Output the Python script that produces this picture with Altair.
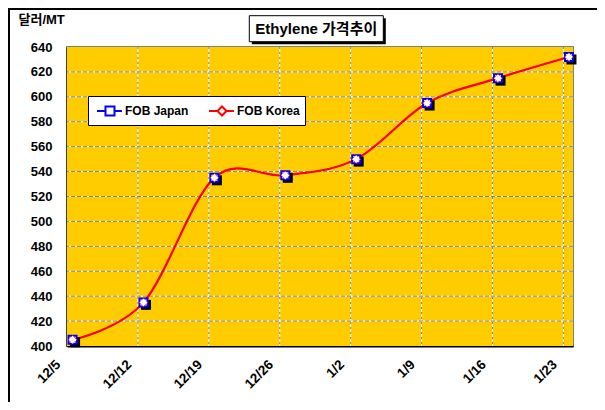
import json
import altair as alt
import pandas as pd

# ---- data ----
dates = ["12/5", "12/12", "12/19", "12/26", "1/2", "1/9", "1/16", "1/23"]
fob_japan = [405, 435, 535, 537, 550, 595, 615, 632]
fob_korea = [405, 435, 535, 537, 550, 595, 615, 632]
series_names = ["FOB Japan", "FOB Korea"]
series_colors = ["#0000FF", "#FF0000"]
y_ticks = [400, 420, 440, 460, 480, 500, 520, 540, 560, 580, 600, 620, 640]
title_text = "Ethylene 가격추이"
y_title = "달러/MT"

FONT = "Liberation Sans, Arial, Noto Sans CJK KR"
PLOT_BG = "#FFCC00"
day_step = 7
x_shift = 0.55
days = [i * day_step for i in range(len(dates))]
tick_vals = [d - x_shift for d in days]

df = pd.DataFrame({
    "date": dates * 2,
    "day": days * 2,
    "price": fob_japan + fob_korea,
    "series": [series_names[0]] * len(dates) + [series_names[1]] * len(dates),
})
xgrid = pd.DataFrame({"day": tick_vals[1:]})
ygrid = pd.DataFrame({"price": y_ticks[1:-1]})
one = pd.DataFrame({"t": [title_text]})

x_enc = alt.X(
    "day:Q",
    scale=alt.Scale(domain=[tick_vals[0], days[-1] + 0.4], nice=False, zero=False),
    axis=alt.Axis(
        values=tick_vals,
        labelExpr=f"{json.dumps(dates)}[round((datum.value + {x_shift}) / {day_step})]",
        title=None, grid=False, ticks=False, tickSize=0,
        domainColor="black", domainWidth=2,
        labelAngle=-45, labelAlign="right", labelBaseline="middle",
        labelPadding=16, labelOffset=-9, labelOverlap=False,
        labelFont=FONT, labelFontSize=13.5, labelFontWeight="bold", labelColor="black",
    ),
)
y_enc = alt.Y(
    "price:Q",
    scale=alt.Scale(domain=[y_ticks[0], y_ticks[-1]], nice=False, zero=False),
    axis=alt.Axis(
        values=y_ticks, title=y_title, titleAngle=0, titleAlign="left",
        titleBaseline="middle", titleX=-49, titleY=-27.5,
        titleFont=FONT, titleFontSize=13, titleFontWeight="bold", titleColor="black",
        grid=False, ticks=False, tickSize=0,
        domainColor="black", domainWidth=2, labelPadding=15,
        labelFont=FONT, labelFontSize=13, labelFontWeight="bold", labelColor="black",
    ),
)

plot_bg = alt.Chart(one).mark_rect(color=PLOT_BG).encode(
    x=alt.value(0), x2=alt.value(506), y=alt.value(0), y2=alt.value(299))

vgrid_base = alt.Chart(xgrid).mark_rule(color="white", strokeWidth=1).encode(x=x_enc)
vgrid_dash = alt.Chart(xgrid).mark_rule(color="#808080", strokeWidth=1, strokeDash=[2, 3]).encode(x=x_enc)
hgrid_base = alt.Chart(ygrid).mark_rule(color="white", strokeWidth=1).encode(y=y_enc)
hgrid_dash = alt.Chart(ygrid).mark_rule(color="#808080", strokeWidth=1, strokeDash=[4, 2]).encode(y=y_enc)

japan = alt.Chart(df).transform_filter(alt.datum.series == series_names[0])
korea = alt.Chart(df).transform_filter(alt.datum.series == series_names[1])

line_j = japan.mark_line(color=series_colors[0], strokeWidth=1, interpolate="cardinal").encode(x=x_enc, y=y_enc)
line_k = korea.mark_line(color=series_colors[1], strokeWidth=2.2, interpolate="cardinal").encode(x=x_enc, y=y_enc)

shadow_path = "M-0.625,-0.625H1.875V1.875H-0.625Z"
shadow = japan.mark_point(shape=shadow_path, size=64, filled=True, fill="black",
                          strokeWidth=0, opacity=1).encode(x=x_enc, y=y_enc)
sq_j = japan.mark_point(shape="square", size=64, filled=True, fill="white",
                        stroke=series_colors[0], strokeWidth=2, opacity=1).encode(x=x_enc, y=y_enc)
dm_k = korea.mark_point(shape="diamond", size=72, filled=True, fill="white",
                        stroke=series_colors[1], strokeWidth=1, strokeDash=[1, 1],
                        opacity=1).encode(x=x_enc, y=y_enc)

path_j = "M-0.65,0H0.35M1.41,0H2.29M0.35,-0.53H1.41V0.53H0.35Z"
path_k = "M-0.65,0H0.35M1.41,0H2.29M0.88,-0.53L1.41,0L0.88,0.53L0.35,0Z"
leg = alt.Legend(
    title=None, orient="none", legendX=21, legendY=49, direction="horizontal",
    fillColor="white", strokeColor="black", padding=5,
    symbolSize=289, symbolStrokeWidth=2, symbolOpacity=1,
    labelFont=FONT, labelFontSize=12, labelFontWeight="bold", labelColor="black",
    labelOffset=13, columnPadding=15,
)
legend_layer = alt.Chart(df).mark_point(filled=False, strokeWidth=2, opacity=1).encode(
    color=alt.Color("series:N", scale=alt.Scale(domain=series_names, range=series_colors), legend=leg),
    shape=alt.Shape("series:N", scale=alt.Scale(domain=series_names, range=[path_j, path_k]), legend=leg),
).transform_filter("false")

box_shadow = alt.Chart(one).mark_rect(color="black").encode(
    x=alt.value(184.8), x2=alt.value(318.8), y=alt.value(-28.8), y2=alt.value(-2.8))
box = alt.Chart(one).mark_rect(fill="white", stroke="black", strokeWidth=1).encode(
    x=alt.value(182.3), x2=alt.value(316.3), y=alt.value(-31.3), y2=alt.value(-5.3))
box_text = alt.Chart(one).mark_text(font=FONT, fontSize=15, fontWeight="bold", color="black",
                                    align="center", baseline="middle").encode(
    x=alt.value(249.3), y=alt.value(-18), text="t:N")

frame_top = alt.Chart(one).mark_rule(color="black", strokeWidth=2).encode(
    x=alt.value(-59), x2=alt.value(530), y=alt.value(-38))
frame_left = alt.Chart(one).mark_rule(color="black", strokeWidth=2).encode(
    x=alt.value(-58), y=alt.value(-39), y2=alt.value(355))

chart = alt.layer(
    plot_bg, vgrid_base, vgrid_dash, hgrid_base, hgrid_dash,
    line_j, line_k, shadow, sq_j, dm_k, legend_layer,
    box_shadow, box, box_text, frame_top, frame_left,
).properties(
    width=506, height=299, autosize="none",
    padding={"left": 59, "top": 39, "right": 24, "bottom": 56},
    background="white",
).configure_view(fill=PLOT_BG, stroke="#808080", strokeWidth=2)

chart.save("out.html", embed_options={"renderer": "svg", "actions": False})
